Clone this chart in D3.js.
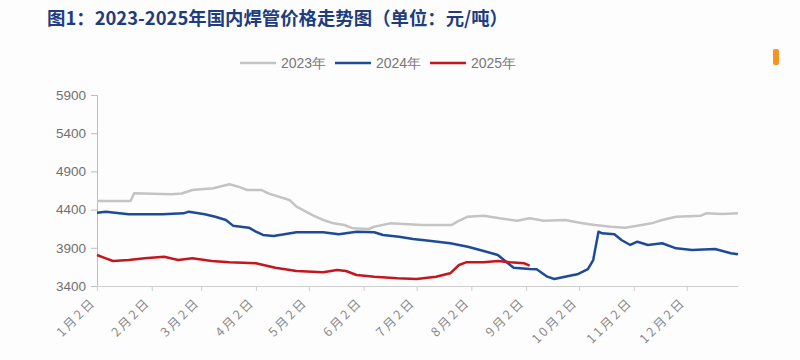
<!DOCTYPE html>
<html><head><meta charset="utf-8">
<script src="https://cdn.jsdelivr.net/npm/d3@7"></script>
<style>
html,body{margin:0;padding:0;background:#fdfdfd;}
svg{display:block;}
</style></head>
<body>
<svg id="chart" width="800" height="360"></svg>
<script>
const title = "图1：2023-2025年国内焊管价格走势图（单位：元/吨）";
const seriesNames = ["2023年", "2024年", "2025年"];
const seriesColors = ["#c4c4c4", "#1d4b97", "#c3161e"];
const yTicks = [3400, 3900, 4400, 4900, 5400, 5900];
const xTickDates = ["01-02","02-02","03-02","04-02","05-02","06-02","07-02","08-02","09-02","10-02","11-02","12-02"];
const xTickLabels = ["1月2日","2月2日","3月2日","4月2日","5月2日","6月2日","7月2日","8月2日","9月2日","10月2日","11月2日","12月2日"];

const dates2023 = ["01-02","01-21","01-23","02-13","02-19","02-25","03-09","03-18","03-23","03-28","04-05","04-09","04-21","04-25","05-04","05-10","05-16","05-22","05-27","06-05","06-08","06-17","07-05","07-22","07-25","07-31","08-09","08-18","08-28","09-04","09-12","09-24","10-04","10-11","10-20","10-28","11-04","11-12","11-18","11-26","12-10","12-13","12-22","12-31"];
const values2023 = [4513,4513,4613,4600,4610,4657,4679,4731,4700,4657,4657,4613,4526,4438,4329,4264,4220,4198,4155,4146,4176,4220,4200,4200,4242,4307,4320,4286,4255,4286,4255,4264,4220,4198,4176,4163,4190,4220,4264,4307,4320,4351,4342,4351];

const dates2024 = ["01-02","01-07","01-20","02-08","02-20","02-23","03-04","03-10","03-16","03-20","03-29","04-02","04-06","04-12","04-25","05-10","05-19","05-29","06-08","06-13","06-22","06-30","07-09","07-21","07-31","08-09","08-17","08-22","08-26","09-04","09-08","09-14","09-18","09-24","10-01","10-07","10-10","10-13","10-15","10-22","10-26","10-31","11-04","11-10","11-18","11-26","12-05","12-18","12-27","12-31"];
const values2024 = [4360,4373,4338,4338,4351,4373,4338,4307,4264,4190,4163,4111,4068,4055,4103,4103,4077,4111,4103,4068,4046,4015,3993,3959,3914,3858,3806,3710,3640,3622,3618,3522,3492,3522,3553,3620,3740,4111,4090,4077,4002,3937,3980,3937,3959,3893,3871,3884,3828,3815];

const dates2025 = ["01-02","01-07","01-11","01-20","01-29","02-09","02-17","02-25","03-08","03-18","04-02","04-13","04-25","05-10","05-18","05-23","05-29","06-08","06-21","07-02","07-13","07-21","07-26","07-30","08-09","08-17","08-24","09-01","09-04"];
const values2025 = [3806,3762,3727,3740,3762,3784,3740,3762,3727,3710,3697,3640,3596,3579,3610,3596,3544,3522,3501,3492,3522,3566,3675,3710,3710,3727,3710,3697,3666];

const parse = d3.timeParse("%Y-%m-%d");
const toDate = md => parse("2001-" + md);
const series = [
  dates2023.map((d,i)=>({x:toDate(d), y:values2023[i]})),
  dates2024.map((d,i)=>({x:toDate(d), y:values2024[i]})),
  dates2025.map((d,i)=>({x:toDate(d), y:values2025[i]}))
];

const svg = d3.select("#chart");
const L = 97, R = 738, T = 95, B = 286;
const x = d3.scaleTime().domain([toDate("01-02"), toDate("12-31")]).range([L, R]);
const y = d3.scaleLinear().domain([3400, 5900]).range([B, T]);

svg.append("rect").attr("width",800).attr("height",360).attr("fill","#fdfdfd");

// title
svg.append("text").attr("x", 47).attr("y", 25)
  .attr("font-family", "'Noto Sans CJK SC', sans-serif")
  .attr("font-weight", "bold").attr("font-size", 18.4)
  .attr("fill", "#1f3d7e").text(title);

// decorative orange mark at right
svg.append("rect").attr("x",773).attr("y",49).attr("width",6).attr("height",16).attr("rx",2).attr("fill","#f7941d");

// y axis
const yAxis = d3.axisLeft(y).tickValues(yTicks).tickSize(6).tickPadding(5).tickFormat(d3.format("d"));
const gy = svg.append("g").attr("transform", `translate(${L},0)`).call(yAxis);
gy.select(".domain").attr("stroke", "#bdbdbd");
gy.selectAll(".tick line").attr("stroke", "#bdbdbd");
gy.selectAll(".tick text").attr("fill", "#707070").attr("font-size", 13.5)
  .attr("font-family", "'Liberation Sans', Arial, sans-serif");

// x axis
const xAxis = d3.axisBottom(x).tickValues(xTickDates.map(toDate)).tickSize(5)
  .tickFormat((d,i)=>xTickLabels[i]).tickSizeOuter(0);
const gx = svg.append("g").attr("transform", `translate(0,${B})`).call(xAxis);
gx.select(".domain").attr("stroke", "#cfcfcf");
gx.selectAll(".tick line").attr("stroke", "#cfcfcf");
gx.selectAll(".tick text")
  .attr("fill", "#8a8a8a").attr("font-size", 12.5)
  .attr("letter-spacing", "2.5px")
  .attr("font-family", "'Noto Sans CJK SC', sans-serif")
  .attr("text-anchor", "end").attr("dy", null).attr("y", 0)
  .attr("transform", "translate(-1,17) rotate(-45)");

// lines
const line = d3.line().x(d=>x(d.x)).y(d=>y(d.y)).curve(d3.curveLinear);
series.forEach((s,i)=>{
  svg.append("path").datum(s).attr("d", line)
    .attr("fill","none").attr("stroke", seriesColors[i])
    .attr("stroke-width", 2.5).attr("stroke-linejoin","round");
});

// legend
const legendX = [240, 335, 430];
const legend = svg.append("g");
seriesNames.forEach((n,i)=>{
  legend.append("line").attr("x1", legendX[i]).attr("x2", legendX[i]+36)
    .attr("y1", 63).attr("y2", 63).attr("stroke", seriesColors[i]).attr("stroke-width", 2.6);
  legend.append("text").attr("x", legendX[i]+41).attr("y", 68)
    .attr("font-size", 14).attr("fill", "#777")
    .attr("font-family", "'Liberation Sans', Arial, sans-serif").text(n);
});
</script>
</body></html>
